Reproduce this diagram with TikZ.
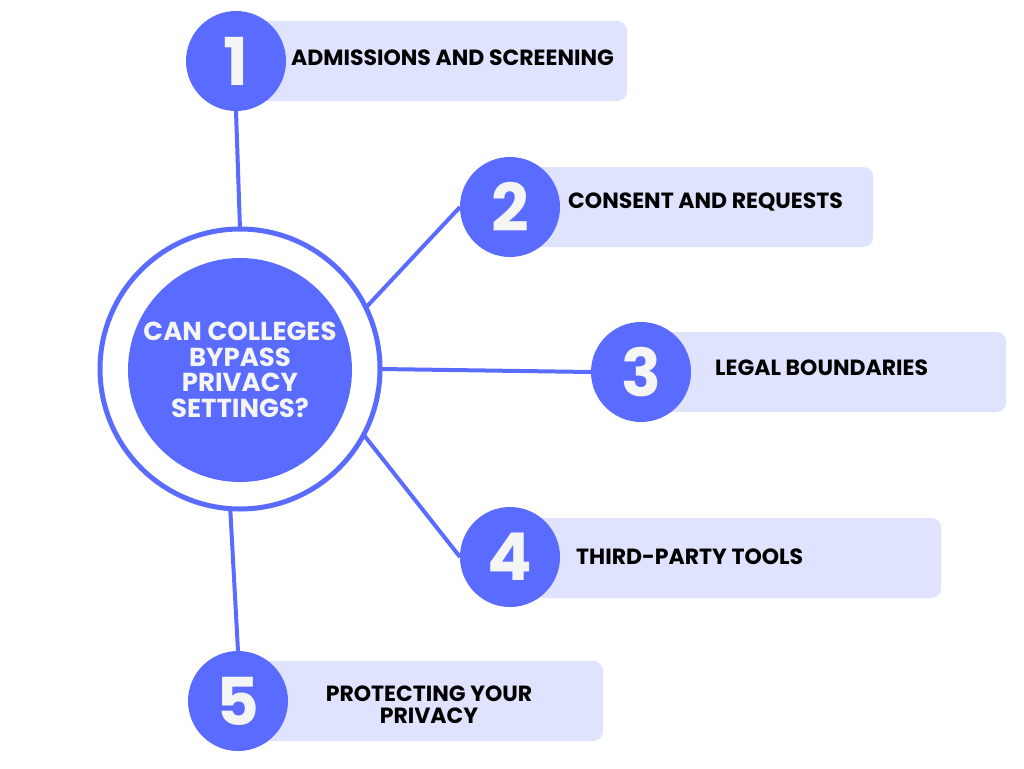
\documentclass[tikz,border=0pt]{standalone}
\usepackage{fontspec}
\setmainfont{Poppins}
\definecolor{brand}{HTML}{5A6BFF}
\definecolor{lavender}{HTML}{E0E3FD}
\definecolor{offwhite}{HTML}{F5F5F5}
\begin{document}
\begin{tikzpicture}[x=1pt, y=-1pt,
    card/.style={fill=lavender, rounded corners=10pt, minimum height=80pt, anchor=west, inner sep=0pt},
    numcirc/.style={circle, fill=brand, minimum size=100pt, inner sep=0pt, outer sep=0pt,
        text=offwhite, font=\fontsize{66}{66}\selectfont\bfseries},
    cardtext/.style={anchor=west, inner sep=0pt, font=\fontsize{22}{22}\selectfont\bfseries},
    link/.style={draw=brand, line width=4pt}]
    \useasboundingbox (0,0) rectangle (1024,768);

    % Cards behind the numbers
    \node[card, minimum width=391pt] (c1) at (236,61) {};
    \node[card, minimum width=363pt] (c2) at (510,207) {};
    \node[card, minimum width=365pt] (c3) at (641,372) {};
    \node[card, minimum width=431pt] (c4) at (510,558) {};
    \node[card, minimum width=365pt] (c5) at (238,701) {};

    % Numbered circles
    \node[numcirc] (n1) at (236,61) {1};
    \node[numcirc] (n2) at (510,207) {2};
    \node[numcirc] (n3) at (641,372) {3};
    \node[numcirc] (n4) at (510,557) {4};
    \node[numcirc] (n5) at (238,701) {5};

    % Card texts
    \node[cardtext] (t1) at (291,58) {ADMISSIONS AND SCREENING};
    \node[cardtext] (t2) at (568,202) {CONSENT AND REQUESTS};
    \node[cardtext] (t3) at (715,368) {LEGAL BOUNDARIES};
    \node[cardtext] (t4) at (576,557) {THIRD-PARTY TOOLS};
    \node[cardtext, anchor=center, align=center] (t5) at (429,705) {PROTECTING YOUR\\PRIVACY};

    % Central question
    \node[circle, draw=brand, line width=5pt, fill=white, minimum size=280pt,
        inner sep=0pt, outer sep=0pt] (hub) at (240,369) {};
    \node[circle, fill=brand, minimum size=224pt, inner sep=0pt, text=offwhite, align=center,
        font=\fontsize{26}{25.5}\selectfont\bfseries] (core) at (240,370)
        {CAN COLLEGES\\BYPASS\\PRIVACY\\SETTINGS?};

    % Links to the numbers
    \draw[link] (hub.north) -- (n1.south);
    \draw[link] (hub.26) -- (n2.west);
    \draw[link] (hub.east) -- (n3.west);
    \draw[link] (hub.-28) -- (n4.west);
    \draw[link] (hub.-94) -- (n5.north);
\end{tikzpicture}
\end{document}
